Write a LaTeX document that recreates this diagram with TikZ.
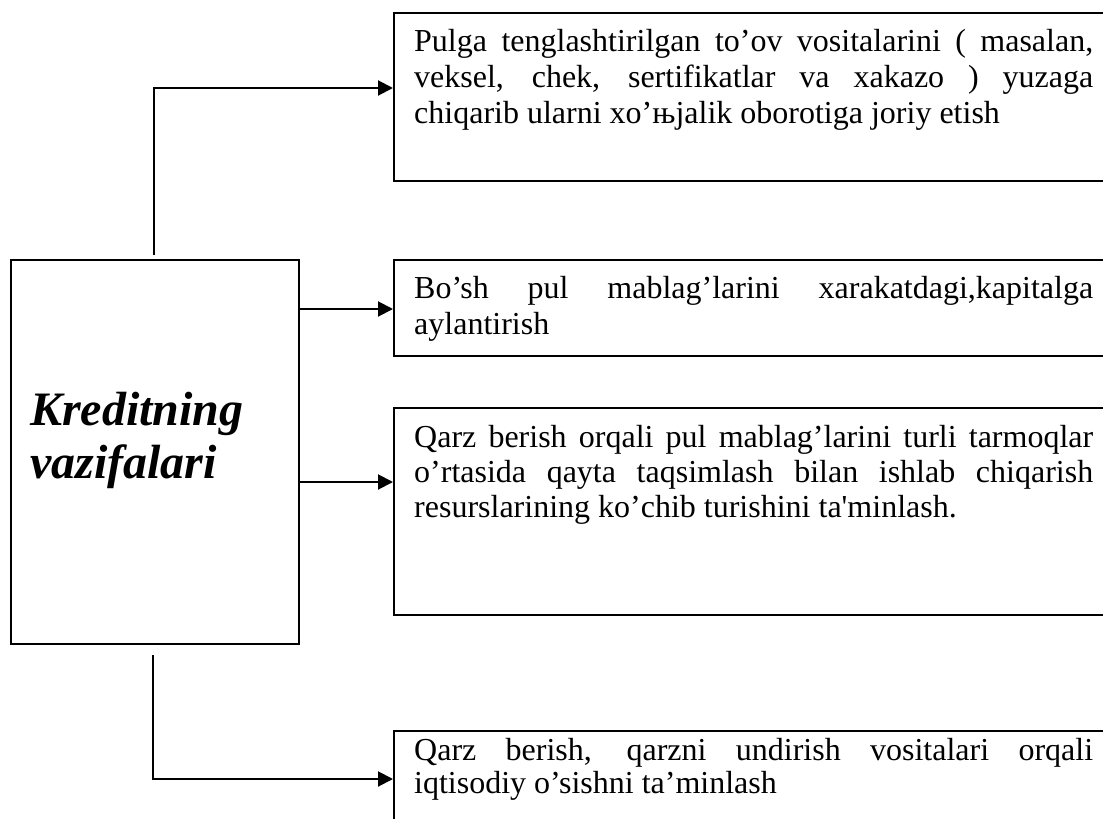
\documentclass[tikz,border=0pt]{standalone}
\usepackage{fontspec}
\setmainfont{Liberation Serif}
\newfontfamily\plainserif{Liberation Serif}
\usetikzlibrary{arrows.meta}
\begin{document}
\begin{tikzpicture}[x=1pt,y=-1pt,
  box/.style={draw,line width=2pt,inner sep=0pt,anchor=north west,minimum width=722pt},
  txt/.style={inner sep=0pt,anchor=north west,text width=679pt,align=justify,
    font=\fontsize{32}{36}\selectfont,
    execute at begin node={\hyphenpenalty=10000\tolerance=9999\emergencystretch=20pt}},
  conn/.style={line width=2pt},
  arr/.style={conn,-{Triangle[length=15pt,width=15pt]}}]
\clip (0,0) rectangle (1103,819);
\fill[white] (0,0) rectangle (1103,819);
% left box
\node[draw,line width=2pt,inner sep=0pt,anchor=north west,minimum width=288pt,minimum height=384pt] (L) at (10,259) {};
\node[inner sep=0pt,anchor=north west,align=left,font=\fontsize{48}{53}\selectfont\bfseries\itshape] (Lt) at (30,389) {\rule{0pt}{36pt}Kreditning\\vazifalari};
% right boxes
\node[box,minimum height=168pt] (b1) at (393,12) {};
\node[box,minimum height=96pt] (b2) at (393,259) {};
\node[box,minimum height=207pt] (b3) at (393,407) {};
\node[box,minimum height=110pt] (b4) at (393,730) {};
% texts
\node[txt] (t1) at (414,26) {\rule{0pt}{25pt}Pulga tenglashtirilgan to’ov vositalarini ( masalan,\linebreak veksel, chek, sertifikatlar va xakazo ) yuzaga\linebreak chiqarib ularni xo’њjalik oborotiga joriy etish};
\node[txt] (t2) at (414,273) {\rule{0pt}{25pt}Bo’sh pul mablag’larini xarakatdagi,kapitalga\linebreak aylantirish};
\node[txt,font=\fontsize{32}{35}\selectfont] (t3) at (414,422) {\rule{0pt}{25pt}Qarz berish orqali pul mablag’larini turli tarmoqlar\linebreak o’rtasida qayta taqsimlash bilan ishlab chiqarish\linebreak resurslarining ko’chib turishini ta{\plainserif '}minlash.};
\node[txt,font=\fontsize{32}{33}\selectfont] (t4) at (414,735) {\rule{0pt}{25pt}Qarz berish, qarzni undirish vositalari orqali\linebreak iqtisodiy o’sishni ta’minlash};
% connectors
\coordinate (ts) at (154,255);
\coordinate (bs) at (153,655);
\draw[arr] (ts) |- (b1.west |- 0,88);
\draw[arr] (L.east |- 0,309) -- (b2.west |- 0,309);
\draw[arr] (L.east |- 0,482) -- (b3.west |- 0,482);
\draw[arr] (bs) |- (b4.west |- 0,779);
\end{tikzpicture}
\end{document}
